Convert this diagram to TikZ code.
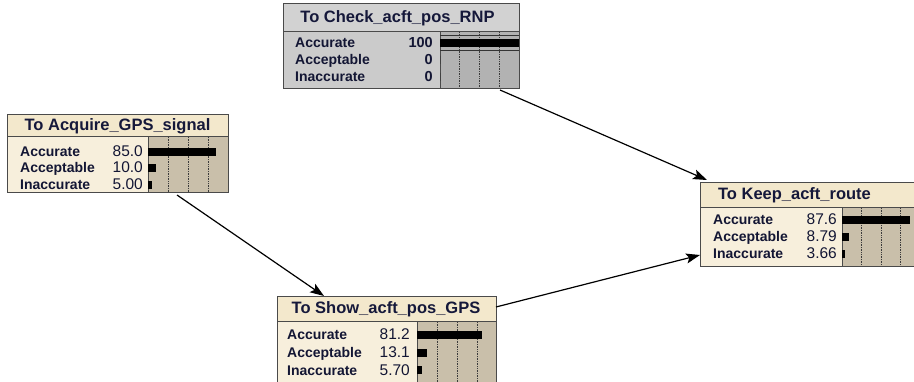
\documentclass[tikz,border=0pt]{standalone}
\usepackage{fontspec}
\setmainfont{Liberation Sans}
\usetikzlibrary{arrows.meta,calc}
\definecolor{tband}{HTML}{F3E8CC}
\definecolor{tbody}{HTML}{F7EFDC}
\definecolor{tbar}{HTML}{C9BFAA}
\definecolor{gband}{HTML}{D2D2D2}
\definecolor{gbody}{HTML}{CBCBCB}
\definecolor{gbar}{HTML}{B2B2B2}
\definecolor{ink}{HTML}{15183A}
\definecolor{edgec}{HTML}{4A4A4A}
\tikzset{
  boxframe/.style={draw=edgec, line width=1pt, inner sep=0pt, outer sep=0pt, anchor=north west},
  gridl/.style={draw=edgec!80!black, densely dotted, line width=0.7pt},
  titletext/.style={font=\fontsize{16.5}{18}\bfseries\selectfont, text=ink, inner sep=0pt},
  labtext/.style={font=\fontsize{14}{16}\bfseries\selectfont, text=ink!90!black, inner sep=0pt, anchor=base west},
  numtext/.style={font=\fontsize{15.5}{17}\selectfont, text=ink!90!black, inner sep=0pt, anchor=base east},
  arr/.style={-{Stealth[length=14pt,width=10pt,inset=3pt]}, line width=1.2pt, black},
}
% #1 name #2 L #3 T #4 D #5 B #6 R #7 barL #8 barW #9 scheme
\newcommand\netbox[9]{%
  \node[boxframe, fill=#9body, minimum width={#6-#2}, minimum height={#5-#3}] (#1) at (#2,#3) {};
  \fill[#9band] (#2,#3) rectangle (#6,#4);
  \fill[#9bar] (#7,#4) rectangle (#6,#5);
  \foreach \k in {1,2,3} {\draw[gridl] ({#7+\k*#8/4},#4) -- ({#7+\k*#8/4},#5);}
  \draw[edgec, line width=1pt] (#2,#4) -- (#6,#4);
  \draw[edgec, line width=0.8pt] (#7,#4) -- (#7,#5);
  \draw[edgec, line width=1pt] (#2,#3) rectangle (#6,#5);
}
% #1 y #2 labelx #3 label #4 numx #5 value #6 barL #7 frac #8 barW
\newcommand\netrow[8]{%
  \node[labtext] at (#2,#1+5) {#3};
  \node[numtext] at (#4,#1+5) {#5};
  \fill[black] (#6,#1-4) rectangle ({#6+#7*#8},#1+4);
}
\begin{document}
\begin{tikzpicture}[x=1pt,y=-1pt]
\useasboundingbox (0,0) rectangle (914,382);
\fill[white] (0,0) rectangle (914,382);

% Check box (grey)
\netbox{chk}{283}{4}{32}{89}{519}{440}{79}{g}
\draw[edgec!70!black, line width=0.7pt] (440,35) -- (519,35);
\draw[edgec!70!black, line width=0.7pt] (440,50) -- (519,50);
\node[titletext] (chkt) at (397.5,18) {To Check\_acft\_pos\_RNP};
\netrow{43}{295}{Accurate}{433}{\fontsize{14.5}{16}\bfseries 100}{440}{1}{79}
\netrow{60}{295}{Acceptable}{433}{\fontsize{14.5}{16}\bfseries 0}{440}{0}{79}
\netrow{77}{295}{Inaccurate}{433}{\fontsize{14.5}{16}\bfseries 0}{440}{0}{79}

% Acquire box
\netbox{acq}{7}{115}{137}{193}{228}{148}{80}{t}
\node[titletext] (acqt) at (117.5,126) {To Acquire\_GPS\_signal};
\netrow{152}{20}{Accurate}{143}{85.0}{148}{0.85}{80}
\netrow{168}{20}{Acceptable}{143}{10.0}{148}{0.10}{80}
\netrow{185}{20}{Inaccurate}{143}{5.00}{148}{0.05}{80}

% Keep box
\netbox{keep}{700}{183}{208}{267}{924}{842}{78}{t}
\node[titletext] (keept) at (794.5,195.5) {To Keep\_acft\_route};
\netrow{220}{713}{Accurate}{837}{87.6}{842}{0.876}{78}
\netrow{237}{713}{Acceptable}{837}{8.79}{842}{0.0879}{78}
\netrow{254}{713}{Inaccurate}{837}{3.66}{842}{0.0366}{78}

% Show box
\netbox{show}{277}{297}{322}{388}{496}{417}{80}{t}
\node[titletext] (showt) at (386,309.5) {To Show\_acft\_pos\_GPS};
\netrow{335}{287}{Accurate}{410}{81.2}{417}{0.812}{80}
\netrow{353}{287}{Acceptable}{410}{13.1}{417}{0.131}{80}
\netrow{370}{287}{Inaccurate}{410}{5.70}{417}{0.057}{80}

% connectors
\draw[arr] ([xshift=59.5pt,yshift=-2pt]acq.south) -- ([xshift=-62.5pt,yshift=1pt]show.north);
\draw[arr] ([xshift=99pt,yshift=-1pt]chk.south) -- ([xshift=7pt,yshift=3pt]keep.north west);
\draw[arr] ([yshift=-10pt]show.north east) -- ([yshift=12pt]keep.south west);
\end{tikzpicture}
\end{document}
